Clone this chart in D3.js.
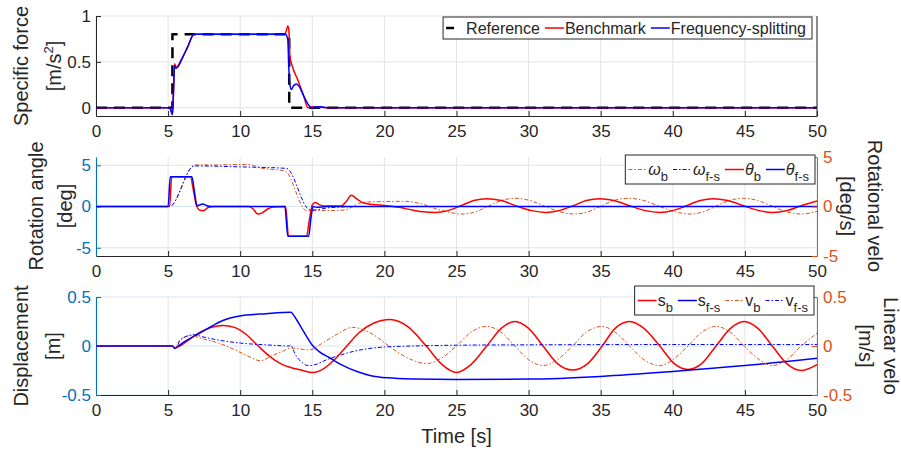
<!DOCTYPE html>
<html>
<head>
<meta charset="utf-8">
<script src="https://cdn.jsdelivr.net/npm/d3@7"></script>
<style>
  body { margin: 0; background: #fff; }
  text { font-family: "Liberation Sans", Arial, sans-serif; fill: #262626; }
</style>
</head>
<body>
<svg id="chart" width="901" height="451"></svg>
<script>
// ---- tick labels ----
const timeTicks = [0, 5, 10, 15, 20, 25, 30, 35, 40, 45, 50];
const forceTicks = [0, 0.5, 1];
const angleTicks = [-5, 0, 5];
const rateTicks = [-5, 0, 5];
const dispTicks = [-0.5, 0, 0.5];
const veloTicks = [-0.5, 0, 0.5];

// ---- specific force [m/s^2] : [time, value] ----
const refForce = [[0, 0], [5.3, 0], [5.3, 0.8], [13.4, 0.8], [13.4, 0], [50, 0]];
const benchForce = [[0, 0], [5.1, 0], [5.2, -0.03], [5.3, -0.075], [5.38, 0.2], [5.45, 0.48], [5.55, 0.44],
  [5.7, 0.46], [5.9, 0.52], [6.35, 0.66], [6.8, 0.8], [13.1, 0.8], [13.2, 0.84], [13.3, 0.89], [13.37, 0.86],
  [13.45, 0.56], [13.6, 0.46], [14.0, 0.3], [14.4, 0.13], [14.7, 0.0], [15.0, 0.01], [16, 0], [50, 0]];
const fsForce = [[0, 0], [5.1, 0], [5.2, -0.03], [5.3, -0.075], [5.38, 0.2], [5.45, 0.46], [5.55, 0.43],
  [5.7, 0.45], [5.9, 0.51], [6.35, 0.66], [6.8, 0.8], [13.15, 0.8], [13.3, 0.74], [13.38, 0.4], [13.45, 0.25],
  [13.55, 0.2], [13.7, 0.24], [13.9, 0.26], [14.1, 0.23], [14.4, 0.13], [14.7, 0.04], [14.9, 0.0],
  [15.0, -0.01], [15.2, 0.01], [15.6, 0.01], [16, 0], [50, 0]];

// ---- rotation angle [deg] (left) ----
const thetaB = [[0, 0], [5.1, 0], [5.25, 3.6], [6.55, 3.6], [6.75, 2.0], [6.95, 0.2], [7.2, -0.45], [7.45, -0.5],
  [7.8, -0.1], [8.2, 0], [10.6, 0], [10.9, -0.3], [11.2, -0.9], [11.5, -0.8], [11.9, -0.3], [12.3, -0.05],
  [13.15, 0], [13.35, -3.6], [14.6, -3.6], [14.8, -1.6], [15.0, 0.2], [15.2, 0.5], [15.5, 0.2], [16, 0.05],
  [17.0, 0.05], [17.35, 0.6], [17.7, 1.35], [18.1, 0.9], [18.5, 0.45], [19.2, 0.25], [20, 0.12], [21, -0.1],
  [22, -0.45], [22.7, -0.65], [23.5, -0.72], [24.4, -0.5], [25.3, 0.1], [26.2, 0.72], [27.1, 0.95],
  [28.1, 0.72], [29.1, 0.1], [30.2, -0.5], [31.2, -0.72], [32.1, -0.5], [33.1, 0.1], [34, 0.72],
  [34.95, 0.95], [35.9, 0.72], [37, 0.1], [38.1, -0.5], [39.1, -0.72], [40, -0.5], [40.95, 0.1],
  [41.9, 0.72], [42.8, 0.95], [43.8, 0.72], [44.9, 0.1], [46, -0.5], [46.95, -0.72], [47.9, -0.5],
  [48.9, 0.1], [50, 0.68]];
const thetaFS = [[0, 0], [5.0, 0], [5.15, 3.6], [6.65, 3.6], [6.85, 1.5], [7.0, 0.1], [7.2, 0.2], [7.4, 0.3],
  [7.7, 0.1], [8, 0], [13.1, 0], [13.3, -3.6], [14.75, -3.6], [14.9, -1.5], [15.05, 0], [15.3, -0.1],
  [16, 0], [50, 0]];

// ---- rotational velocity [deg/s] (right) ----
const omegaB = [[0, 0], [5.1, 0], [6.87, 4.2], [8, 4.2], [10.4, 4.25], [10.9, 4.15], [11.4, 3.9], [12.2, 3.75],
  [13.1, 3.6], [14.6, -0.42], [15.5, -0.42], [16.5, -0.4], [17.3, -0.35], [17.8, 0.0], [18.2, 0.3],
  [18.8, 0.45], [20, 0.5], [21.4, 0.52], [22.5, 0.3], [23.5, -0.2], [24.4, -0.55], [25.4, -0.76],
  [26.3, -0.55], [27.2, 0.03], [28.1, 0.6], [29.06, 0.83], [30.1, 0.6], [31.1, 0.03], [32.2, -0.55],
  [33.2, -0.76], [34.1, -0.55], [35, 0.03], [35.9, 0.6], [36.9, 0.83], [38, 0.6], [39.05, 0.03],
  [40.2, -0.55], [41.2, -0.76], [42.1, -0.55], [43, 0.03], [43.9, 0.6], [44.9, 0.83], [45.9, 0.6],
  [46.9, 0.03], [47.9, -0.55], [48.9, -0.76], [50, -0.5]];
const omegaFS = [[0, 0], [5.1, 0], [6.8, 4.1], [10, 4.0], [13.2, 3.85], [14.8, -0.3], [15.2, -0.35],
  [16, -0.15], [17, -0.05], [18, 0], [50, 0]];

// ---- displacement [m] (left) ----
const sB = [[0, 0], [5.3, 0], [5.5, -0.02], [5.8, 0.0], [6.5, 0.07], [7.2, 0.14], [8, 0.19], [8.8, 0.21],
  [9.6, 0.19], [10.4, 0.12], [11.25, 0], [12, -0.1], [12.8, -0.18], [13.5, -0.22], [14.2, -0.245],
  [15.05, -0.27], [15.8, -0.23], [16.6, -0.13], [17.4, 0], [18.2, 0.13], [19.2, 0.23], [20.4, 0.27],
  [21.6, 0.2], [22.9, 0], [24, -0.19], [25, -0.27], [26, -0.19], [27.1, 0], [28.1, 0.18], [29.05, 0.25],
  [30, 0.18], [31, 0], [32, -0.18], [33.05, -0.245], [34.1, -0.18], [35.1, 0], [36, 0.18], [37, 0.25],
  [38, 0.18], [39.1, 0], [40.1, -0.18], [41.05, -0.24], [42, -0.18], [43, 0], [44, 0.18], [44.95, 0.25],
  [45.9, 0.18], [46.9, 0], [47.9, -0.18], [48.9, -0.25], [50, -0.19]];
const sFS = [[0, 0], [5.3, 0], [5.45, -0.025], [5.7, 0], [6.2, 0.05], [6.75, 0.095], [7.65, 0.17],
  [8.8, 0.26], [9.95, 0.305], [11.8, 0.33], [13.5, 0.345], [13.9, 0.27], [14.35, 0.16], [15.05, 0],
  [15.5, -0.06], [16.2, -0.12], [17, -0.19], [18.1, -0.26], [19, -0.3], [20.2, -0.325], [22, -0.337],
  [25, -0.342], [30, -0.338], [35, -0.31], [40, -0.26], [45, -0.2], [50, -0.125]];

// ---- linear velocity [m/s] (right) ----
const vB = [[0, 0], [5.3, 0], [5.5, -0.02], [5.8, 0.06], [6.5, 0.105], [7.5, 0.07], [8.5, 0.03],
  [9.5, -0.03], [10.5, -0.1], [11.4, -0.15], [12.2, -0.1], [13, -0.05], [13.5, -0.02], [14.8, -0.04],
  [15.6, 0.02], [16.7, 0.12], [17.8, 0.19], [18.8, 0.15], [19.6, 0.08], [20.3, 0.0], [21.6, -0.12],
  [22.9, -0.18], [24, -0.12], [25, 0], [26, 0.14], [27.1, 0.2], [28.1, 0.14], [29.05, 0], [30, -0.14],
  [31, -0.2], [32, -0.14], [33.05, 0], [34, 0.14], [35.1, 0.2], [36, 0.14], [37, 0], [38, -0.14],
  [39.1, -0.2], [40, -0.14], [41.05, 0], [42, 0.14], [43, 0.2], [44, 0.14], [44.95, 0], [46, -0.14],
  [46.9, -0.2], [47.9, -0.14], [48.9, 0], [50, 0.13]];
const vFS = [[0, 0], [5.3, 0], [5.5, -0.03], [5.8, 0.05], [6.3, 0.1], [6.7, 0.115], [7.5, 0.09],
  [8.5, 0.06], [10, 0.03], [12, 0.01], [13.4, 0.0], [13.5, 0.01], [13.8, -0.08], [14.3, -0.17],
  [14.7, -0.2], [15.2, -0.19], [16, -0.14], [17, -0.09], [18, -0.05], [19, -0.025], [20, -0.01],
  [22, 0.0], [25, 0.008], [30, 0.012], [40, 0.015], [50, 0.015]];

// ---- styling ----
const DARK = '#262626';
const AX_BLUE = '#0072BD';
const AX_ORANGE = '#D95319';
const RED = '#ff0000';
const BLUE = '#0000ff';
const DASHDOT = '4,2,1.5,2';
const LEFT = 96, RIGHT = 817;

const svg = d3.select('#chart');
const x = d3.scaleLinear().domain([0, 50]).range([LEFT, RIGHT]);

function makePanel(id, top, bottom, yDomain, yTicks, yColor, gridColor) {
  const g = svg.append('g');
  const y = d3.scaleLinear().domain(yDomain).range([bottom, top]);
  g.append('clipPath').attr('id', id)
    .append('rect').attr('x', LEFT).attr('y', top).attr('width', RIGHT - LEFT).attr('height', bottom - top);

  // grid
  g.append('g').selectAll('line').data(timeTicks).join('line')
    .attr('x1', d => x(d)).attr('x2', d => x(d)).attr('y1', top).attr('y2', bottom)
    .attr('stroke', '#e3e3e3').attr('stroke-width', 1);
  g.append('g').selectAll('line').data(yTicks).join('line')
    .attr('x1', LEFT).attr('x2', RIGHT).attr('y1', d => y(d)).attr('y2', d => y(d))
    .attr('stroke', gridColor).attr('stroke-width', 1);

  // x axis
  const xa = g.append('g').attr('transform', `translate(0,${bottom})`)
    .call(d3.axisBottom(x).tickValues(timeTicks).tickSizeInner(-5).tickSizeOuter(0).tickPadding(9));
  xa.attr('font-size', 17).attr('font-family', null).attr('color', DARK);

  // left y axis
  const ya = g.append('g').attr('transform', `translate(${LEFT},0)`)
    .call(d3.axisLeft(y).tickValues(yTicks).tickSizeInner(-5).tickSizeOuter(0).tickPadding(5).tickFormat(d => String(d)));
  ya.attr('font-size', 17).attr('font-family', null).attr('color', yColor);
  ya.selectAll('text').style('fill', yColor);

  const lines = g.append('g').attr('clip-path', `url(#${id})`);
  return { g, y, lines, top, bottom };
}

function addRightAxis(p, domain, ticks) {
  const yr = d3.scaleLinear().domain(domain).range([p.bottom, p.top]);
  const ra = p.g.append('g').attr('transform', `translate(${RIGHT},0)`)
    .call(d3.axisRight(yr).tickValues(ticks).tickSizeInner(-5).tickSizeOuter(0).tickPadding(6).tickFormat(d => String(d)));
  ra.attr('font-size', 17).attr('font-family', null).attr('color', AX_ORANGE);
  ra.selectAll('text').style('fill', AX_ORANGE);
  return yr;
}

function addLine(p, data, y, color, width, dash, curve) {
  const line = d3.line().x(d => x(d[0])).y(d => y(d[1])).curve(curve || d3.curveMonotoneX);
  p.lines.append('path').datum(data)
    .attr('fill', 'none').attr('stroke', color).attr('stroke-width', width)
    .attr('stroke-dasharray', dash || null).attr('stroke-linejoin', 'round')
    .attr('d', line);
}

function yLabel(lines, cx, cy, rot) {
  lines.forEach(([str, xx]) => {
    const t = svg.append('text')
      .attr('transform', `translate(${xx},${cy}) rotate(${rot})`)
      .attr('text-anchor', 'middle').attr('dy', '0.35em')
      .attr('font-size', 20);
    str.forEach(part => {
      const ts = t.append('tspan').text(part.t);
      if (part.sup) ts.attr('font-size', 13).attr('dy', -8);
      if (part.after) ts.attr('dy', 8);
    });
  });
}

function legend(items, right, top, height, baseline) {
  const lg = svg.append('g');
  const box = lg.append('rect').attr('y', top).attr('height', height)
    .attr('fill', '#fff').attr('stroke', DARK).attr('stroke-width', 1);
  const inner = lg.append('g');
  let cx = 3;
  const midY = top + height / 2;
  items.forEach(it => {
    inner.append('line').attr('x1', cx).attr('x2', cx + 19).attr('y1', midY).attr('y2', midY)
      .attr('stroke', it.color).attr('stroke-width', it.width).attr('stroke-dasharray', it.dash || null);
    const t = inner.append('text').attr('x', cx + 20).attr('y', baseline).attr('font-size', 16);
    it.label.forEach(part => {
      const ts = t.append('tspan').text(part.t);
      if (part.it) ts.attr('font-style', 'italic');
      if (part.sub) ts.attr('font-size', 13).attr('dy', 6);
    });
    const w = t.node().getComputedTextLength();
    cx += 20 + w + 5;
  });
  const totalW = cx + 1;
  const left = right - totalW;
  box.attr('x', left).attr('width', totalW);
  inner.attr('transform', `translate(${left},0)`);
}

// ---- panel 1: specific force ----
const p1 = makePanel('clip1', 16, 116, [-0.09, 1], forceTicks, DARK, '#e3e3e3');
p1.g.append('line').attr('x1', RIGHT).attr('x2', RIGHT).attr('y1', 16).attr('y2', 116)
  .attr('stroke', DARK).attr('stroke-width', 1);
addLine(p1, refForce, p1.y, '#000', 2.5, '11,7', d3.curveLinear);
addLine(p1, benchForce, p1.y, RED, 1.5);
addLine(p1, fsForce, p1.y, BLUE, 1.5);
legend([
  { label: [{ t: 'Reference' }], color: '#000', width: 2.5, dash: '8,12' },
  { label: [{ t: 'Benchmark' }], color: RED, width: 1.5 },
  { label: [{ t: 'Frequency-splitting' }], color: BLUE, width: 1.5 }
], 812, 17, 22, 34);

// ---- panel 2: rotation ----
const p2 = makePanel('clip2', 157, 256, [-6, 6], angleTicks, AX_BLUE, '#d6e7f3');
const yRate = addRightAxis(p2, [-5, 5], rateTicks);
addLine(p2, omegaB, yRate, AX_ORANGE, 1, DASHDOT);
addLine(p2, omegaFS, yRate, BLUE, 1, DASHDOT);
addLine(p2, thetaB, p2.y, RED, 1.5);
addLine(p2, thetaFS, p2.y, BLUE, 1.5);
legend([
  { label: [{ t: 'ω', it: true }, { t: 'b', sub: true }], color: AX_ORANGE, width: 1, dash: DASHDOT },
  { label: [{ t: 'ω', it: true }, { t: 'f-s', sub: true }], color: BLUE, width: 1, dash: DASHDOT },
  { label: [{ t: 'θ', it: true }, { t: 'b', sub: true }], color: RED, width: 1.5 },
  { label: [{ t: 'θ', it: true }, { t: 'f-s', sub: true }], color: BLUE, width: 1.5 }
], 815, 155, 29, 175);

// ---- panel 3: displacement ----
const p3 = makePanel('clip3', 297, 395, [-0.5, 0.5], dispTicks, AX_BLUE, '#d6e7f3');
const yVelo = addRightAxis(p3, [-0.5, 0.5], veloTicks);
addLine(p3, sB, p3.y, RED, 1.5);
addLine(p3, sFS, p3.y, BLUE, 1.5);
addLine(p3, vB, yVelo, AX_ORANGE, 1, DASHDOT);
addLine(p3, vFS, yVelo, BLUE, 1, DASHDOT);
legend([
  { label: [{ t: 's' }, { t: 'b', sub: true }], color: RED, width: 1.5 },
  { label: [{ t: 's' }, { t: 'f-s', sub: true }], color: BLUE, width: 1.5 },
  { label: [{ t: 'v' }, { t: 'b', sub: true }], color: AX_ORANGE, width: 1, dash: DASHDOT },
  { label: [{ t: 'v' }, { t: 'f-s', sub: true }], color: BLUE, width: 1, dash: DASHDOT }
], 814, 286, 29, 306);

// ---- axis titles ----
yLabel([[[{ t: 'Specific force' }], 21], [[{ t: '[m/s' }, { t: '2', sup: true }, { t: ']', after: true }], 54]], 0, 66, -90);
yLabel([[[{ t: 'Rotation angle' }], 36], [[{ t: '[deg]' }], 65]], 0, 206, -90);
yLabel([[[{ t: 'Displacement' }], 21], [[{ t: '[m]' }], 53]], 0, 346, -90);
yLabel([[[{ t: 'Rotational velo' }], 875], [[{ t: '[deg/s]' }], 847]], 0, 206, 90);
yLabel([[[{ t: 'Linear velo' }], 891], [[{ t: '[m/s]' }], 866]], 0, 346, 90);

svg.append('text').attr('x', (LEFT + RIGHT) / 2).attr('y', 443)
  .attr('text-anchor', 'middle').attr('font-size', 20).text('Time [s]');
</script>
</body>
</html>
